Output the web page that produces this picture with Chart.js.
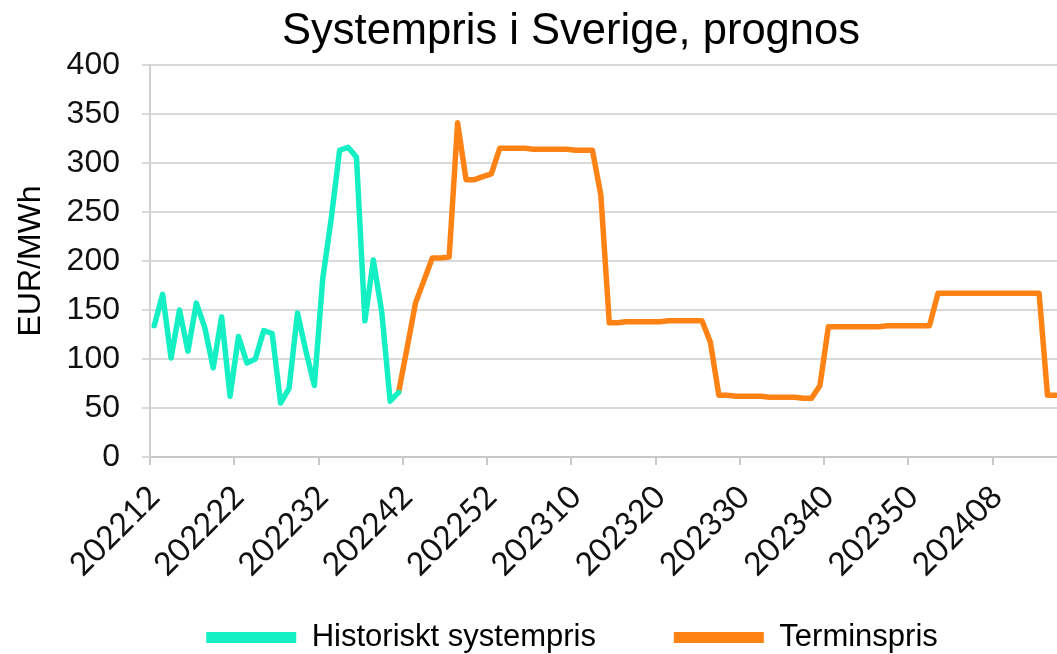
<!DOCTYPE html>
<html>
<head>
<meta charset="utf-8">
<script src="https://cdn.jsdelivr.net/npm/chart.js@4.4.1/dist/chart.umd.min.js"></script>
<style>
  body { margin: 0; overflow: hidden; background: #fff; }
  #wrap { position: relative; width: 1142px; height: 654px; }
  #title {
    position: absolute; left: 0; top: 5px; width: 1142px;
    text-align: center; font: 43.5px 'Liberation Sans', Arial, sans-serif; color: #000;
  }
</style>
</head>
<body>
<div id="wrap">
  <div id="title">Systempris i Sverige, prognos</div>
  <canvas id="prisChart"></canvas>
</div>
<script>
// veckor 202212 .. 202424 (bilden är beskuren till höger)
const weeks = [];
for (let w = 12; w <= 52; w++) weeks.push('2022' + String(w).padStart(2, '0'));
for (let w = 1; w <= 52; w++) weeks.push('2023' + String(w).padStart(2, '0'));
for (let w = 1; w <= 24; w++) weeks.push('2024' + String(w).padStart(2, '0'));

const shownTicks = ['202212', '202222', '202232', '202242', '202252', '202310',
    '202320', '202330', '202340', '202350', '202408'];

// historiskt systempris, EUR/MWh, från 202212
const historiskt = [134, 166, 101, 150, 108, 157, 132, 91, 143, 62,
    123, 96, 100, 129, 126, 55, 70, 147, 108, 73,
    182, 243, 313, 316, 306, 139, 201, 148, 57, 66];

// terminspris, EUR/MWh, från 202241
const terminStart = 29;
const termin = [66, 111, 157, 180, 203, 203, 204, 341, 283, 283,
    286, 289, 315, 315, 315, 315, 314, 314, 314, 314,
    314, 313, 313, 313, 267, 137, 137, 138, 138, 138,
    138, 138, 139, 139, 139, 139, 139, 117, 63, 63,
    62, 62, 62, 62, 61, 61, 61, 61, 60, 60,
    73, 133, 133, 133, 133, 133, 133, 133, 134, 134,
    134, 134, 134, 134, 167, 167, 167, 167, 167, 167,
    167, 167, 167, 167, 167, 167, 167, 63, 63];

const yTicks = [0, 50, 100, 150, 200, 250, 300, 350, 400];

Chart.defaults.font.family = "'Liberation Sans', Arial, sans-serif";
Chart.defaults.color = '#111';

const ctx = document.getElementById('prisChart');
new Chart(ctx, {
    type: 'line',
    data: {
        labels: weeks,
        datasets: [{
            label: 'Historiskt systempris',
            data: historiskt,
            borderColor: '#14EFC4',
            backgroundColor: '#14EFC4',
            borderWidth: 5.5,
            pointRadius: 0,
            tension: 0,
            borderJoinStyle: 'round',
            borderCapStyle: 'round'
        }, {
            label: 'Terminspris',
            data: Array(terminStart).fill(null).concat(termin),
            borderColor: '#FF8214',
            backgroundColor: '#FF8214',
            borderWidth: 5.5,
            pointRadius: 0,
            tension: 0,
            borderJoinStyle: 'round',
            borderCapStyle: 'round'
        }]
    },
    options: {
        responsive: true,
        maintainAspectRatio: false,
        animation: false,
        layout: {
            padding: { left: 8, right: 6, top: 65, bottom: -9 }
        },
        plugins: {
            legend: {
                position: 'bottom',
                labels: {
                    font: { size: 31 },
                    color: '#000',
                    boxWidth: 90,
                    boxHeight: 11,
                    padding: 9,
                    // lite extra luft mellan posterna
                    generateLabels: (chart) =>
                        Chart.defaults.plugins.legend.labels.generateLabels(chart)
                            .map((l, i) => ({ ...l, lineWidth: 0, text: i === 0 ? l.text + '        ' : l.text }))
                }
            },
            tooltip: { enabled: false }
        },
        scales: {
            x: {
                offset: true,
                afterFit: (axis) => { axis.paddingLeft = 0; axis.paddingRight = 0; axis.height = 156; },
                grid: {
                    offset: true,
                    drawOnChartArea: false,
                    drawTicks: true,
                    tickLength: 8,
                    lineWidth: 2,
                    color: (c) => (c.index % 10 === 0 ? '#c8c8c8' : 'rgba(0,0,0,0)')
                },
                border: { color: '#c8c8c8', width: 2 },
                ticks: {
                    autoSkip: false,
                    minRotation: 45,
                    maxRotation: 45,
                    padding: 13,
                    font: { family: 'Lato', size: 32 },
                    color: '#111',
                    callback: (v, i) => (shownTicks.includes(weeks[i]) ? weeks[i] : '')
                }
            },
            y: {
                min: 0,
                max: 400,
                afterBuildTicks: (axis) => { axis.ticks = yTicks.map(v => ({ value: v })); },
                afterFit: (axis) => { axis.width = 142; },
                grid: { color: '#d9d9d9', lineWidth: 2, tickLength: 8 },
                border: { color: '#d0d0d0', width: 2 },
                ticks: {
                    padding: 22,
                    font: { size: 32 },
                    color: '#111'
                },
                title: {
                    display: true,
                    text: 'EUR/MWh',
                    font: { size: 32 },
                    color: '#000',
                    padding: { top: 4, bottom: 4 }
                }
            }
        }
    }
});
</script>
</body>
</html>
